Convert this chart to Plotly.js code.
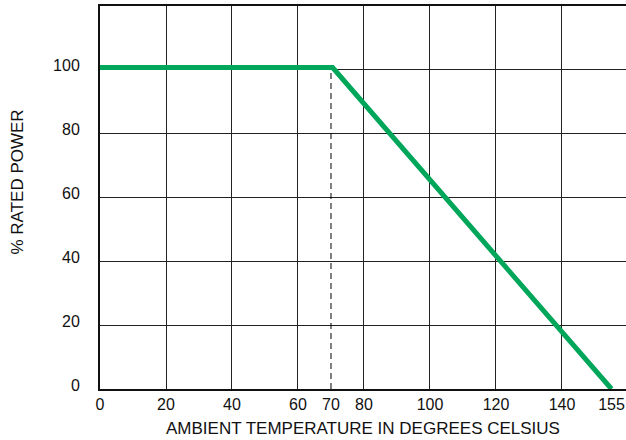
<!DOCTYPE html>
<html>
<head>
<meta charset="utf-8">
<script src="https://cdn.plot.ly/plotly-3.0.1.min.js"></script>
<style>html,body{margin:0;padding:0;background:#fff;}#chart{width:626px;height:440px;}</style>
</head>
<body>
<div id="chart"></div>
<script>
// Derating curve data
const temps = [0, 70.5, 155];
const power = [100.7, 100.7, 0];
// Dashed marker at the knee
const kneeX = [70, 70];
const kneeY = [0, 100];
// Axis ticks
const xTickVals = [0, 20, 40, 60, 70, 80, 100, 120, 140, 155];
const xTickText = ['0', '20', '40', '60', '70', '80', '100', '120', '140', '155'];
const xGridVals = [20, 40, 60, 80, 100, 120, 140, 160];
const yTickVals = [0, 20, 40, 60, 80, 100];
const yGridVals = [20, 40, 60, 80, 100];

const tickFont = {family: 'Liberation Sans, Arial, sans-serif', size: 16, color: '#111'};
const titleFont = {family: 'Liberation Sans, Arial, sans-serif', size: 17, color: '#111'};

const traces = [
  {x: kneeX, y: kneeY, mode: 'lines', line: {color: '#000', width: 1, dash: '6px,4px'}, hoverinfo: 'skip'},
  {x: temps, y: power, mode: 'lines', line: {color: '#00a65a', width: 5}, hoverinfo: 'skip'}
];

const layout = {
  width: 626, height: 440,
  margin: {l: 100, r: 0, t: 6, b: 51},
  paper_bgcolor: '#fff', plot_bgcolor: '#fff',
  showlegend: false,
  font: tickFont,
  xaxis: {
    range: [0, 159.4], fixedrange: true,
    tickmode: 'array', tickvals: xTickVals, ticktext: xTickText,
    showgrid: false, zeroline: false,
    showline: true, mirror: true, linecolor: '#111', linewidth: 2,
    ticks: '', ticklabelstandoff: 0,
    tickfont: tickFont,
    minor: {tickmode: 'array', tickvals: xGridVals, showgrid: true, gridcolor: '#222', gridwidth: 1, ticks: ''},
    title: {text: 'AMBIENT TEMPERATURE IN DEGREES CELSIUS', font: titleFont, standoff: 10}
  },
  yaxis: {
    range: [0, 120], fixedrange: true,
    tickmode: 'array', tickvals: yTickVals,
    showgrid: false, zeroline: false,
    showline: true, mirror: false, linecolor: '#111', linewidth: 2,
    ticks: '', ticklabelstandoff: 15, ticklabelshift: -4,
    tickfont: tickFont,
    minor: {tickmode: 'array', tickvals: yGridVals, showgrid: true, gridcolor: '#222', gridwidth: 1, ticks: ''}
  },
  annotations: [{
    text: '% RATED POWER', font: titleFont, textangle: -90,
    xref: 'paper', yref: 'paper', x: 0, y: 0.5,
    xanchor: 'center', yanchor: 'middle', xshift: -83, yshift: 15,
    showarrow: false
  }]
};

Plotly.newPlot('chart', traces, layout, {staticPlot: true, displayModeBar: false});
</script>
</body>
</html>
